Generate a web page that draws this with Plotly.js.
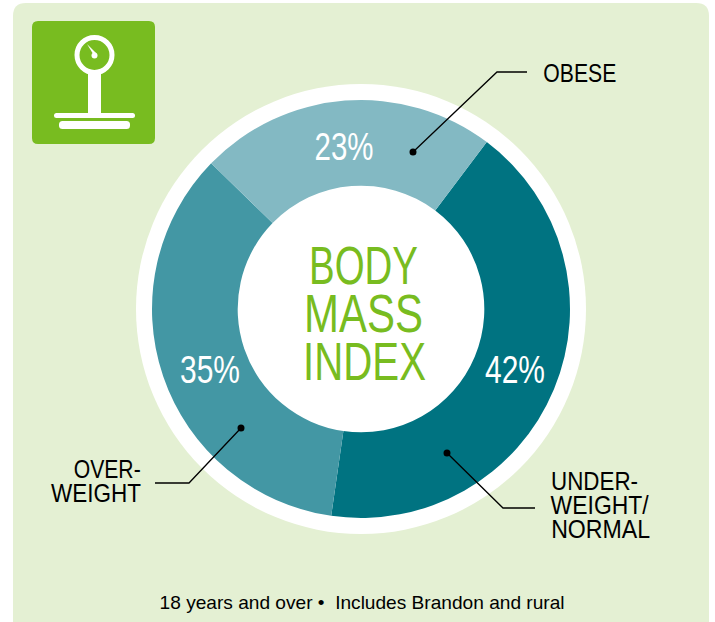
<!DOCTYPE html>
<html>
<head>
<meta charset="utf-8">
<script src="https://cdn.plot.ly/plotly-3.0.1.min.js"></script>
<style>html,body{margin:0;padding:0;background:#fff}#c{width:715px;height:622px}</style>
</head>
<body>
<div id="c"></div>
<script>
const categories = ["UNDER-WEIGHT/NORMAL", "OVER-WEIGHT", "OBESE"];
const values = [42, 35, 23];
const percentLabels = ["42%", "35%", "23%"];
const sliceColors = ["#007381", "#4397a4", "#83b9c3"];
const centerLines = ["BODY", "MASS", "INDEX"];
const footer = "18 years and over \u2022  Includes Brandon and rural";

const W = 715, H = 622;
const px = x => x / W, py = y => 1 - y / H;
const FONT = '"Liberation Sans",sans-serif';
const GREEN = "#78bc20", BG = "#e4f0d3";

function rr(x0, y0, x1, y1, r) {
  const X = v => px(v), Y = v => py(v);
  return `M${X(x0 + r)},${Y(y0)} L${X(x1 - r)},${Y(y0)} Q${X(x1)},${Y(y0)} ${X(x1)},${Y(y0 + r)} ` +
         `L${X(x1)},${Y(y1 - r)} Q${X(x1)},${Y(y1)} ${X(x1 - r)},${Y(y1)} ` +
         `L${X(x0 + r)},${Y(y1)} Q${X(x0)},${Y(y1)} ${X(x0)},${Y(y1 - r)} ` +
         `L${X(x0)},${Y(y0 + r)} Q${X(x0)},${Y(y0)} ${X(x0 + r)},${Y(y0)} Z`;
}
const pth = (d, fill, layer) => ({type: "path", xref: "paper", yref: "paper", path: d, fillcolor: fill, line: {width: 0}, layer: layer || "below"});
const circ = (cx, cy, r, fill, layer, lw, lc) => ({
  type: "circle", xref: "paper", yref: "paper",
  x0: px(cx - r), x1: px(cx + r), y0: py(cy + r), y1: py(cy - r),
  fillcolor: fill, line: {width: lw || 0, color: lc || fill}, layer: layer || "below"
});
const leader = (pts) => ({
  type: "path", xref: "paper", yref: "paper", layer: "above",
  path: pts.map((p, i) => (i ? "L" : "M") + px(p[0]) + "," + py(p[1])).join(" "),
  line: {color: "#000", width: 1.3}
});

const shapes = [
  pth(rr(13, 3, 709, 640, 13), BG),
  circ(361, 309, 225, "#ffffff"),
  // icon
  pth(rr(32, 21, 155, 144, 6), GREEN),
  circ(94.5, 55, 17.5, "rgba(0,0,0,0)", "below", 5, "#ffffff"),
  pth(rr(88, 72, 101, 115, 0), "#ffffff"),
  pth(rr(54, 113, 135, 118, 2.5), "#ffffff"),
  pth(rr(59, 121, 130, 129, 3.5), "#ffffff"),
  circ(94.5, 55.5, 3, "#ffffff"),
  pth(`M${px(87)},${py(44)} L${px(92.5)},${py(53)} L${px(96)},${py(53)} Z`, "#ffffff"),
  // leaders
  leader([[413, 152], [497, 72], [527, 72]]),
  leader([[241, 428], [189, 483], [155, 483]]),
  leader([[447, 453], [503, 508], [535, 508]]),
  circ(413, 152, 3.5, "#000", "above"),
  circ(241, 428, 3.5, "#000", "above"),
  circ(447, 453, 3.5, "#000", "above")
];

// text placed by its left and right edge; the width is enforced after drawing (condensed look)
const spans = [];
const note = (text, x0, x1, y, size, color) => {
  spans.push(x1 - x0);
  return {
    xref: "paper", yref: "paper", x: px((x0 + x1) / 2), y: py(y), text, showarrow: false,
    xanchor: "center", yanchor: "middle", align: "center",
    font: {family: FONT, size, color}
  };
};

const annotations = [
  note(percentLabels[2], 314, 373, 146, 39, "#fff"),
  note(percentLabels[1], 180, 240, 369, 39, "#fff"),
  note(percentLabels[0], 485, 545, 369, 39, "#fff"),
  note(centerLines[0], 309, 418, 265, 54, GREEN),
  note(centerLines[1], 304, 423, 313, 54, GREEN),
  note(centerLines[2], 303, 426, 361, 54, GREEN),
  note("OBESE", 543, 616, 73, 26, "#000"),
  note("OVER-", 74, 141, 469, 26, "#000"),
  note("WEIGHT", 51, 141, 493, 26, "#000"),
  note("UNDER-", 551, 638, 481, 26, "#000"),
  note("WEIGHT/", 551, 649, 505, 26, "#000"),
  note("NORMAL", 551, 650, 529, 26, "#000"),
  note(footer, 159, 564, 602, 18.5, "#000")
];

Plotly.newPlot("c", [{
  type: "pie",
  labels: categories,
  values: values,
  sort: false,
  direction: "clockwise",
  rotation: 37,
  hole: 0.59,
  textinfo: "none",
  hoverinfo: "label+percent",
  marker: {colors: sliceColors, line: {width: 0}},
  domain: {x: [px(152), px(570)], y: [py(518), py(100)]},
  showlegend: false
}], {
  width: W, height: H,
  margin: {l: 0, r: 0, t: 0, b: 0},
  paper_bgcolor: "#ffffff",
  shapes, annotations, showlegend: false
}, {displayModeBar: false, staticPlot: true}).then(gd => {
  gd.querySelectorAll(".annotation-text").forEach((t, i) => {
    t.setAttribute("textLength", spans[i]);
    t.setAttribute("lengthAdjust", "spacingAndGlyphs");
  });
});
</script>
</body>
</html>
